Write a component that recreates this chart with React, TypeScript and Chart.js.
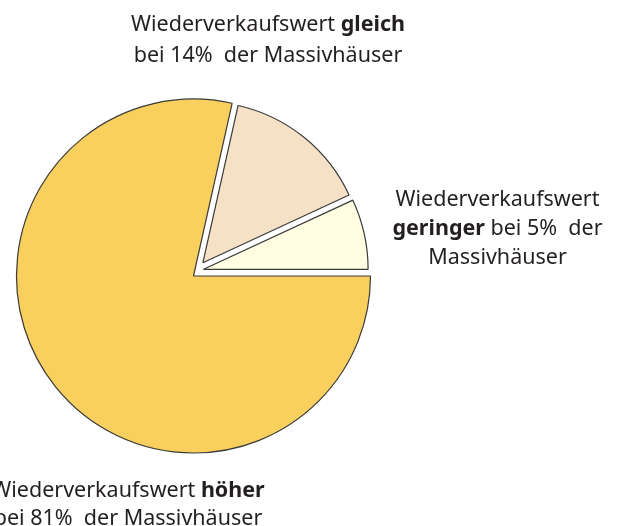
import React, { useEffect, useRef } from "react";
import { Chart, registerables } from "chart.js";

Chart.register(...registerables);

// Categories (order: clockwise from 3 o'clock)
const categories = ["höher", "gleich", "geringer"];
// Slice sizes as drawn in the picture (share of the full circle, %)
const sliceShares = [78.5, 14.6, 6.9];
// Percentages printed in the labels
const labelPercents = [81, 14, 5];

const sliceColors = ["#F9D05E", "#F5E2C6", "#FFFEE2"];
const borderColor = "#3a3a3a";
const FONT_FAMILY = "'Noto Sans', 'Open Sans', sans-serif";
const FONT_SIZE = 21.5;
const TEXT_COLOR = "#231f20";

type Seg = { t: string; b?: boolean };
type Label = { cx: number; y: number; lh: number; lines: Seg[][] };

const labels: Label[] = [
  {
    cx: 128,
    y: 496.5,
    lh: 28,
    lines: [
      [{ t: "Wiederverkaufswert " }, { t: categories[0], b: true }],
      [{ t: `bei ${labelPercents[0]}%  der Massivhäuser` }],
    ],
  },
  {
    cx: 268,
    y: 30.7,
    lh: 31,
    lines: [
      [{ t: "Wiederverkaufswert " }, { t: categories[1], b: true }],
      [{ t: `bei ${labelPercents[1]}%  der Massivhäuser` }],
    ],
  },
  {
    cx: 497.5,
    y: 205.7,
    lh: 29,
    lines: [
      [{ t: "Wiederverkaufswert" }],
      [{ t: categories[2], b: true }, { t: ` bei ${labelPercents[2]}%  der` }],
      [{ t: "Massivhäuser" }],
    ],
  },
];

// explode styling per slice: translation and radius scale
const explode = [
  { dx: 0, dy: 0, k: 1 },
  { dx: 9.4, dy: -13.3, k: 0.91 },
  { dx: 10, dy: -6.7, k: 0.93 },
];

const explodePlugin = {
  id: "explode",
  afterDatasetsUpdate(chart: any) {
    const meta = chart.getDatasetMeta(0);
    meta.data.forEach((arc: any, i: number) => {
      const e = explode[i];
      if (!e) return;
      arc.x += e.dx;
      arc.y += e.dy;
      arc.outerRadius *= e.k;
    });
  },
};

const textPlugin = {
  id: "richLabels",
  afterDraw(chart: any) {
    const ctx: CanvasRenderingContext2D = chart.ctx;
    ctx.save();
    ctx.fillStyle = TEXT_COLOR;
    ctx.textBaseline = "alphabetic";
    ctx.textAlign = "left";
    const fontOf = (b?: boolean) =>
      `${b ? "bold " : ""}${FONT_SIZE}px ${FONT_FAMILY}`;
    labels.forEach((lab) => {
      lab.lines.forEach((line, li) => {
        let total = 0;
        line.forEach((s) => {
          ctx.font = fontOf(s.b);
          total += ctx.measureText(s.t).width;
        });
        let x = lab.cx - total / 2;
        const y = lab.y + li * lab.lh;
        line.forEach((s) => {
          ctx.font = fontOf(s.b);
          ctx.fillText(s.t, x, y);
          x += ctx.measureText(s.t).width;
        });
      });
    });
    ctx.restore();
  },
};

export default function App() {
  const ref = useRef<HTMLCanvasElement | null>(null);
  useEffect(() => {
    if (!ref.current) return;
    const chart = new Chart(ref.current, {
      type: "pie",
      data: {
        labels: categories,
        datasets: [
          {
            data: sliceShares,
            backgroundColor: sliceColors,
            borderColor: borderColor,
            borderWidth: 1.2,
            hoverOffset: 0,
          },
        ],
      },
      options: {
        animation: false,
        responsive: false,
        maintainAspectRatio: false,
        rotation: 90,
        radius: 177,
        layout: { padding: { left: 0, right: 234, top: 26, bottom: 0 } },
        plugins: {
          legend: { display: false },
          tooltip: { enabled: false },
          title: { display: false },
        },
      },
      plugins: [explodePlugin, textPlugin],
    });
    return () => chart.destroy();
  }, []);
  return (
    <div style={{ position: "fixed", left: 0, top: 0, width: 621, height: 526, background: "#fff" }}>
      <canvas ref={ref} width={621} height={526} />
    </div>
  );
}
